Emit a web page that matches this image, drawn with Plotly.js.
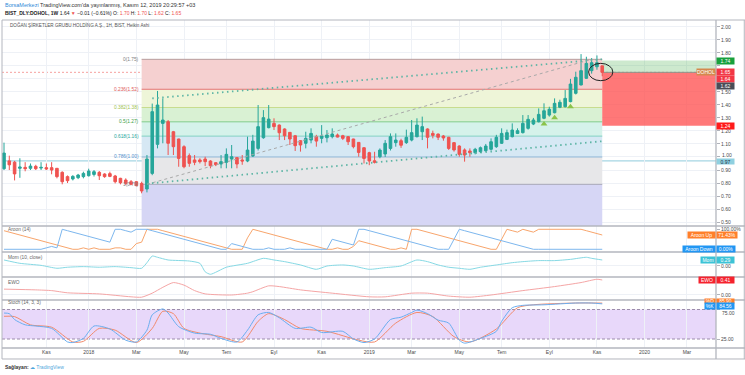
<!DOCTYPE html>
<html><head><meta charset="utf-8">
<script src="https://cdn.plot.ly/plotly-3.0.1.min.js"></script>
<style>html,body{margin:0;padding:0;background:#fff;}#chart{width:745px;height:375px;}</style>
</head><body><div id="chart"></div>
<script>
// ---------- DATA ----------
const barDates = [
'2017-09-11','2017-09-18','2017-09-25','2017-10-02','2017-10-09','2017-10-16','2017-10-23','2017-10-30','2017-11-06','2017-11-13','2017-11-20','2017-11-27','2017-12-04','2017-12-11','2017-12-18','2017-12-25',
'2018-01-01','2018-01-08','2018-01-15','2018-01-22','2018-01-29','2018-02-05','2018-02-12','2018-02-19','2018-02-26','2018-03-05','2018-03-12','2018-03-19','2018-03-26','2018-04-02','2018-04-09','2018-04-16','2018-04-23','2018-04-30','2018-05-07','2018-05-14','2018-05-21','2018-05-28','2018-06-04','2018-06-11','2018-06-18','2018-06-25','2018-07-02','2018-07-09','2018-07-16','2018-07-23','2018-07-30','2018-08-06','2018-08-13','2018-08-20','2018-08-27','2018-09-03','2018-09-10','2018-09-17','2018-09-24','2018-10-01','2018-10-08','2018-10-15','2018-10-22','2018-10-29','2018-11-05','2018-11-12','2018-11-19','2018-11-26','2018-12-03','2018-12-10','2018-12-17','2018-12-24','2018-12-31',
'2019-01-07','2019-01-14','2019-01-21','2019-01-28','2019-02-04','2019-02-11','2019-02-18','2019-02-25','2019-03-04','2019-03-11','2019-03-18','2019-03-25','2019-04-01','2019-04-08','2019-04-15','2019-04-22','2019-04-29','2019-05-06','2019-05-13','2019-05-20','2019-05-27','2019-06-03','2019-06-10','2019-06-17','2019-06-24','2019-07-01','2019-07-08','2019-07-15','2019-07-22','2019-07-29','2019-08-05','2019-08-12','2019-08-19','2019-08-26','2019-09-02','2019-09-09','2019-09-16','2019-09-23','2019-09-30','2019-10-07','2019-10-14','2019-10-21','2019-10-28','2019-11-04','2019-11-11'];

const openP = [0.91,0.97,0.96,0.913,0.92,0.913,0.928,0.915,0.918,0.918,
0.913,0.882,0.849,0.831,0.841,0.849,0.856,0.866,0.882,0.869,
0.872,0.854,0.836,0.823,0.81,0.81,0.797,0.754,0.874,1.097,
1.258,1.271,1.194,1.138,1.079,1.01,0.977,0.977,0.984,0.969,
0.956,0.946,0.959,0.984,0.995,0.977,0.969,1.007,1.066,1.148,
1.225,1.258,1.245,1.215,1.189,1.163,1.125,1.105,1.13,1.156,
1.143,1.148,1.156,1.169,1.163,1.156,1.138,1.112,1.071,1.033,
0.971,1.002,1.023,1.066,1.11,1.125,1.11,1.13,1.156,1.194,
1.215,1.181,1.176,1.161,1.151,1.11,1.084,1.054,1.046,1.033,
1.041,1.048,1.059,1.079,1.105,1.135,1.156,1.181,1.187,1.22,
1.253,1.271,1.297,1.322,1.34,1.381,1.386,1.425,1.489,1.553,
1.604,1.663,1.693,1.70];
const highP = [1.11,1.01,0.97,0.99,0.96,0.95,0.94,0.96,0.95,0.96,
0.915,0.89,0.858,0.86,0.87,0.887,0.91,0.90,0.892,0.875,
0.887,0.862,0.84,0.836,0.823,0.815,0.81,1.015,1.41,1.507,
1.45,1.284,1.2,1.14,1.09,1.027,1.015,0.99,1.002,0.975,
0.96,1.015,1.066,1.092,1.0,1.015,1.156,1.17,1.399,1.36,
1.399,1.297,1.25,1.22,1.19,1.169,1.13,1.194,1.22,1.17,
1.245,1.207,1.22,1.18,1.17,1.16,1.14,1.115,1.075,1.04,
1.04,1.066,1.13,1.181,1.181,1.14,1.21,1.284,1.297,1.31,
1.22,1.202,1.18,1.169,1.155,1.115,1.09,1.066,1.066,1.07,
1.08,1.10,1.143,1.17,1.22,1.21,1.258,1.22,1.322,1.322,
1.30,1.373,1.412,1.386,1.45,1.44,1.514,1.60,1.655,1.79,
1.77,1.76,1.78,1.70];
const lowP = [0.90,0.90,0.82,0.84,0.89,0.90,0.90,0.90,0.90,0.867,
0.836,0.79,0.80,0.82,0.83,0.836,0.85,0.85,0.823,0.84,
0.845,0.797,0.79,0.785,0.785,0.775,0.721,0.728,0.86,1.066,
1.105,1.015,1.015,0.925,0.913,0.925,0.937,0.95,0.93,0.913,
0.93,0.913,0.913,0.913,0.913,0.94,0.96,1.0,1.05,1.14,
1.22,1.207,1.13,1.13,1.092,1.046,1.041,1.066,1.105,1.079,
1.105,1.112,1.143,1.15,1.13,1.092,1.066,1.002,0.95,0.937,
0.95,0.99,1.0,1.05,1.079,1.07,1.10,1.12,1.15,1.13,
1.066,1.143,1.13,1.125,1.054,1.041,1.002,0.964,1.002,1.02,
1.03,1.04,1.05,1.07,1.10,1.13,1.15,1.176,1.18,1.21,
1.245,1.265,1.29,1.31,1.335,1.375,1.38,1.42,1.48,1.55,
1.60,1.64,1.67,1.62];
const closeP = [1.03,0.94,0.87,0.923,0.91,0.93,0.91,0.92,0.908,0.90,
0.849,0.81,0.818,0.851,0.861,0.874,0.892,0.887,0.856,0.849,
0.851,0.81,0.802,0.797,0.79,0.78,0.739,0.984,1.348,1.399,
1.284,1.105,1.079,0.989,0.925,0.951,0.959,0.964,0.964,0.933,
0.941,0.964,1.02,1.002,0.946,0.969,1.053,1.122,1.233,1.302,
1.291,1.233,1.186,1.163,1.138,1.087,1.092,1.143,1.181,1.122,
1.161,1.169,1.176,1.153,1.143,1.117,1.079,1.035,0.989,0.969,
0.959,1.053,1.105,1.156,1.13,1.09,1.151,1.187,1.245,1.233,
1.151,1.166,1.151,1.146,1.066,1.054,1.02,1.015,1.033,1.059,
1.071,1.084,1.117,1.151,1.181,1.187,1.207,1.202,1.258,1.289,
1.284,1.327,1.355,1.366,1.412,1.42,1.45,1.56,1.612,1.663,
1.719,1.724,1.724,1.65];

const aroonUp = [92.9,85.7,78.6,71.4,64.3,57.1,50,42.9,35.7,28.6,21.4,14.3,7.1,0,
0,7.1,0,7.1,0,0,0,7.1,7.1,0,0,28.6,35.7,100,100,100,
92.9,85.7,78.6,71.4,64.3,57.1,50,42.9,35.7,28.6,21.4,14.3,7.1,0,
0,0,57.1,100,92.9,85.7,78.6,71.4,64.3,57.1,50,42.9,35.7,28.6,21.4,14.3,7.1,0,
0,7.1,0,0,14.3,42.9,35.7,28.6,21.4,14.3,7.1,0,0,7.1,0,
100,100,92.9,85.7,78.6,71.4,64.3,57.1,50,42.9,35.7,28.6,21.4,14.3,7.1,0,0,
50,100,92.9,85.7,100,92.9,85.7,100,100,100,100,100,100,100,100,100,92.9,85.7,78.6,71.43];
const aroonDown = [0,0,0,0,0,0,0,0,
7.1,14.3,7.1,100,92.9,85.7,78.6,71.4,64.3,57.1,50,42.9,35.7,
100,100,92.9,85.7,100,100,100,92.9,85.7,78.6,71.4,64.3,57.1,50,42.9,35.7,28.6,21.4,14.3,7.1,0,
0,28.6,21.4,14.3,7.1,0,0,0,7.1,0,0,0,7.1,0,0,0,0,0,0,0,
50,42.9,35.7,28.6,21.4,100,100,92.9,85.7,78.6,71.4,64.3,57.1,50,42.9,35.7,28.6,21.4,14.3,7.1,0,0,0,
50,100,92.9,85.7,78.6,71.4,64.3,57.1,50,42.9,35.7,28.6,21.4,14.3,7.1,
0,0,0,0,0,0,0,0,0,0,0,0,0,0];

const momBars = [0,3,7,10,12,15,18,21,24,26,27,28,29,31,35,37,38,39,42,46,49,51,53,56,59,61,64,66,69,72,75,78,80,82,84,86,88,90,93,96,98,101,104,107,110,111,113];
const momVals = [0.29,0.13,0.03,-0.11,-0.06,-0.03,-0.06,-0.03,-0.08,-0.11,0.16,0.48,0.42,0.29,0.24,0.13,-0.28,-0.40,-0.06,0.13,0.37,0.29,0.21,0.05,-0.16,0,0.05,0,-0.16,-0.08,0,0.29,0.21,0.05,-0.06,-0.11,-0.16,-0.06,0.05,0.16,0.21,0.26,0.26,0.32,0.42,0.37,0.29];

const ewoBars = [0,6,9,12,18,24,26,28,30,32,34,36,38,43,46,47,50,52,56,62,69,72,77,80,84,88,92,98,104,109,112,113];
const ewoVals = [0.16,0.14,0.12,0.06,0.03,-0.05,-0.06,0.05,0.21,0.34,0.27,0.12,0.03,0,0.05,0.09,0.25,0.23,0.14,0.05,-0.05,-0.05,0.05,0.05,-0.03,-0.06,0,0.12,0.23,0.34,0.43,0.41];

const stochKBars = [0,1,2,4,6,9,12,13,15,17,20,23,25,27,28,30,31,33,36,39,41,44,46,48,50,52,55,58,60,64,66,68,70,73,75,77,78,80,82,84,86,87,90,93,94,96,98,102,108,111,113];
const stochKVals = [69,68,58,49,47,43,20,19,26,47,42,23,20,40,66,76,69,46,35,33,26,20,40,66,70,61,43,45,36,38,25,19,25,58,62,70,74,68,57,52,23,18,26,38,55,78,82,83,86,86,84.56];
const stochDBars = [0,2,5,9,13,15,18,21,25,28,30,32,34,37,41,45,48,50,53,56,61,67,70,74,78,81,85,88,93,97,100,108,113];
const stochDVals = [63.5,63,49,45,20,21,43,40,19,43,72,68,43,35,29,20,55,68,58,43,38,23,20,52,70,63,29,20,42,78,83,86,85.9];

const fibRatios = [0, 0.236, 0.382, 0.5, 0.618, 0.786, 1, 1.618];
const fibPrices = [1.75, 1.52, 1.38, 1.27, 1.16, 1.00, 0.79, 0.20];
const fibStart = '2018-03-12', fibEnd = '2019-11-11';

const upperTrendDates = ['2018-03-26','2019-11-15'], upperTrendPrices = [1.450, 1.752];
const lowerTrendDates = ['2018-03-19','2019-11-13'], lowerTrendPrices = [0.795, 1.122];
const fibDiagDates = ['2018-03-19','2019-10-28'], fibDiagPrices = [0.79, 1.75];
const signalDates = ['2019-08-26','2019-09-09','2019-09-30'], signalPrices = [1.253, 1.301, 1.386];

const targetPrice = 1.74, entryPrice = 1.65, stopPrice = 1.24, lastLow = 1.62, lastClose2 = 1.64, hLinePrice = 0.97;
const circleDates = ['2019-10-24','2019-11-25'], circlePrices = [1.586, 1.719];

const xTickVals = ['2017-11-06','2018-01-01','2018-03-05','2018-05-07','2018-07-02','2018-09-03','2018-11-05','2019-01-07','2019-03-04','2019-05-06','2019-07-01','2019-09-02','2019-11-04','2020-01-06','2020-03-02'];
const xTickText = ['Kas','2018','Mar','May','Tem','Eyl','Kas','2019','Mar','May','Tem','Eyl','Kas','2020','Mar'];
const priceTicks = [0.5,0.6,0.7,0.8,0.9,1.0,1.1,1.2,1.3,1.4,1.5,1.6,1.7,1.8,1.9,2.0];
const priceTickText = ['0.50','0.60','0.70','0.80','0.90','','1.10','1.20','1.30','1.40','1.50','','','1.80','1.90','2.00'];

// ---------- STYLE ----------
const FONT = 'Liberation Sans, Arial, sans-serif';
const xRange = ['2017-09-08 08:40','2020-04-09 10:00'];
const bandColors = ['#f5d0d0','#eef5d8','#d9f1d3','#d5f2ea','#d6e8f4','#e7e7e9','#d6d6f5'];
const lineColors = ['#b79c9c','#e57373','#c8dc8e','#81cb88','#80d0c2','#8fb6d6','#a7a7b6'];
const labelColors = ['#808080','#e05a5a','#9cbf4f','#43a047','#26a69a','#4f8fcc','#8a8a8a'];

const bd = i => barDates[i];
const traces = [];
traces.push({type:'candlestick', x:barDates, open:openP, high:highP, low:lowP, close:closeP,
  xaxis:'x', yaxis:'y', hoverinfo:'skip', whiskerwidth:0,
  increasing:{line:{color:'#26a69a', width:1}, fillcolor:'#26a69a'},
  decreasing:{line:{color:'#ef5350', width:1}, fillcolor:'#ef5350'}});
traces.push({type:'scatter', mode:'lines', x:fibDiagDates, y:fibDiagPrices, yaxis:'y', line:{color:'#a9a9a9', width:1, dash:'3px,3px'}, hoverinfo:'skip'});
traces.push({type:'scatter', mode:'lines', x:upperTrendDates, y:upperTrendPrices, yaxis:'y', line:{color:'#5db5a5', width:1.8, dash:'1.5px,3.5px'}, hoverinfo:'skip'});
traces.push({type:'scatter', mode:'lines', x:lowerTrendDates, y:lowerTrendPrices, yaxis:'y', line:{color:'#5db5a5', width:1.8, dash:'1.5px,3.5px'}, hoverinfo:'skip'});
traces.push({type:'scatter', mode:'markers', x:signalDates, y:signalPrices, yaxis:'y', marker:{symbol:'triangle-up', size:6, color:'#8bc34a'}, hoverinfo:'skip'});
traces.push({type:'scatter', mode:'lines', x:barDates, y:aroonUp, yaxis:'y2', line:{color:'#f8a56c', width:1}, hoverinfo:'skip'});
traces.push({type:'scatter', mode:'lines', x:barDates, y:aroonDown, yaxis:'y2', line:{color:'#7db7ee', width:1}, hoverinfo:'skip'});
traces.push({type:'scatter', mode:'lines', x:momBars.map(bd), y:momVals, yaxis:'y3', line:{color:'#86d9e4', width:1, shape:'spline', smoothing:0.6}, hoverinfo:'skip'});
traces.push({type:'scatter', mode:'lines', x:ewoBars.map(bd), y:ewoVals, yaxis:'y4', line:{color:'#f5a5a5', width:1, shape:'spline', smoothing:0.6}, hoverinfo:'skip'});
traces.push({type:'scatter', mode:'lines', x:stochDBars.map(bd), y:stochDVals, yaxis:'y5', line:{color:'#f28a6c', width:1, shape:'spline', smoothing:0.7}, hoverinfo:'skip'});
traces.push({type:'scatter', mode:'lines', x:stochKBars.map(bd), y:stochKVals, yaxis:'y5', line:{color:'#6aaef0', width:1, shape:'spline', smoothing:0.7}, hoverinfo:'skip'});

const shapes = [];
for (let i = 0; i < fibPrices.length - 1; i++) {
  shapes.push({type:'rect', layer:'between', xref:'x', yref:'y', x0:fibStart, x1:fibEnd, y0:fibPrices[i+1], y1:fibPrices[i], fillcolor:bandColors[i], line:{width:0}});
}
for (let i = 0; i < fibPrices.length - 1; i++) {
  shapes.push({type:'line', layer:'between', xref:'x', yref:'y', x0:fibStart, x1:fibEnd, y0:fibPrices[i], y1:fibPrices[i], line:{color:lineColors[i], width:1}});
}
shapes.push({type:'line', layer:'between', xref:'paper', yref:'y', x0:0, x1:1, y0:hLinePrice, y1:hLinePrice, line:{color:'#a6d6e3', width:1.2}});
shapes.push({type:'line', layer:'between', xref:'paper', yref:'y', x0:0, x1:1, y0:entryPrice, y1:entryPrice, line:{color:'rgba(239,83,80,0.55)', width:1, dash:'2px,2px'}});
shapes.push({type:'rect', layer:'between', xref:'x', yref:'y', x0:fibEnd, x1:xRange[1], y0:entryPrice, y1:targetPrice, fillcolor:'rgba(76,175,80,0.28)', line:{width:0}});
shapes.push({type:'rect', layer:'between', xref:'x', yref:'y', x0:fibEnd, x1:xRange[1], y0:stopPrice, y1:entryPrice, fillcolor:'rgba(255,82,82,0.78)', line:{width:0}});
shapes.push({type:'line', layer:'between', xref:'x', yref:'y', x0:fibEnd, x1:xRange[1], y0:entryPrice, y1:entryPrice, line:{color:'#8c968c', width:1}});
shapes.push({type:'circle', layer:'above', xref:'x', yref:'y', x0:circleDates[0], x1:circleDates[1], y0:circlePrices[0], y1:circlePrices[1], line:{color:'#222', width:1}});
shapes.push({type:'rect', layer:'between', xref:'paper', yref:'y5', x0:0, x1:1, y0:25, y1:75, fillcolor:'rgba(149,76,233,0.22)', line:{width:0}});
shapes.push({type:'line', layer:'between', xref:'paper', yref:'y5', x0:0, x1:1, y0:75, y1:75, line:{color:'#9c8cab', width:1, dash:'3px,2px'}});
shapes.push({type:'line', layer:'between', xref:'paper', yref:'y5', x0:0, x1:1, y0:25, y1:25, line:{color:'#9c8cab', width:1, dash:'3px,2px'}});
const sepCol = '#b3b6be';
const XR = 1.0406;
[0.3720, 0.2927, 0.2165, 0.1463].forEach(v => shapes.push({type:'line', layer:'above', xref:'paper', yref:'paper', x0:0, x1:XR, y0:v, y1:v, line:{color:sepCol, width:1.3}}));
shapes.push({type:'line', layer:'above', xref:'paper', yref:'paper', x0:0, x1:XR, y0:1, y1:1, line:{color:sepCol, width:1}});
shapes.push({type:'line', layer:'above', xref:'paper', yref:'paper', x0:0, x1:XR, y0:0, y1:0, line:{color:sepCol, width:1.3}});
shapes.push({type:'line', layer:'above', xref:'paper', yref:'paper', x0:0, x1:XR, y0:-0.0335, y1:-0.0335, line:{color:sepCol, width:1}});
shapes.push({type:'line', layer:'above', xref:'paper', yref:'paper', x0:0, x1:0, y0:-0.0335, y1:1, line:{color:sepCol, width:1}});
shapes.push({type:'line', layer:'above', xref:'paper', yref:'paper', x0:1, x1:1, y0:-0.0335, y1:1, line:{color:sepCol, width:1.3}});
shapes.push({type:'line', layer:'above', xref:'paper', yref:'paper', x0:XR-0.001, x1:XR-0.001, y0:-0.0335, y1:1, line:{color:sepCol, width:1}});

const annotations = [];
const RED = '#ef5350';
annotations.push({xref:'paper', yref:'paper', x:0.0014, y:1.0457, xanchor:'left', yanchor:'middle', showarrow:false,
  text:"<span style='color:#2f8ad8'>BorsaMerkezi</span> TradingView.com'da yayınlanmış, Kasım 12, 2019 20:29:57 +03",
  font:{family:FONT, size:5.5, color:'#333'}});
annotations.push({xref:'paper', yref:'paper', x:0.0014, y:1.0213, xanchor:'left', yanchor:'middle', showarrow:false,
  text:"<b>BIST_DLY:DOHOL, 1W</b> 1.64 <span style='color:"+RED+"'>▼</span> −0.01 (−0.61%) O: <span style='color:"+RED+"'>1.70</span> H: <span style='color:"+RED+"'>1.70</span> L: <span style='color:"+RED+"'>1.62</span> C: <span style='color:"+RED+"'>1.65</span>",
  font:{family:FONT, size:5, color:'#222'}});
annotations.push({xref:'paper', yref:'paper', x:0.008, y:0.9848, xanchor:'left', yanchor:'middle', showarrow:false,
  text:'DOĞAN ŞİRKETLER GRUBU HOLDİNG A.Ş., 1H, BIST, Heikin Ashi', font:{family:FONT, size:4.6, color:'#555'}});
[['Aroon (14)',0.3598],['Mom (10, close)',0.2744],['EWO',0.1982],['Stoch (14, 3, 3)',0.1372]].forEach(p =>
  annotations.push({xref:'paper', yref:'paper', x:0.0056, y:p[1], xanchor:'left', yanchor:'middle', showarrow:false, text:p[0], font:{family:FONT, size:4.8, color:'#666'}}));
annotations.push({xref:'paper', yref:'paper', x:0.0014, y:-0.0579, xanchor:'left', yanchor:'middle', showarrow:false,
  text:"<b>Sağlayan:</b> <span style='color:#4ea6dc'>☁ TradingView</span>", font:{family:FONT, size:5, color:'#333'}});
for (let i = 0; i < fibPrices.length - 1; i++) {
  annotations.push({xref:'x', yref:'y', x:fibStart, y:fibPrices[i], xanchor:'right', yanchor:'middle', xshift:-1, showarrow:false,
    text: fibRatios[i] + '(' + fibPrices[i].toFixed(2) + ')', font:{family:FONT, size:4.8, color:labelColors[i]}});
}
// axis tick texts placed by hand to sit beside the price boxes
annotations.push({xref:'paper', yref:'y', x:1, y:1.0, xanchor:'left', yanchor:'middle', xshift:4, yshift:1.5, showarrow:false, text:'1.00', font:{family:FONT, size:5, color:'#4a4a4a'}});
annotations.push({xref:'paper', yref:'y5', x:1, y:75, xanchor:'left', yanchor:'middle', xshift:4, yshift:-3.5, showarrow:false, text:'75.00', font:{family:FONT, size:5, color:'#4a4a4a'}});

function axLab(yref, y, text, bg, fg, opts) {
  opts = opts || {};
  annotations.push(Object.assign({xref:'paper', yref:yref, x:1, y:y, xanchor:'left', yanchor:'middle', showarrow:false,
    text:text, bgcolor:bg, width:17, height:6, borderpad:0, font:{family:FONT, size:5, color:fg}}, opts));
}
axLab('y', targetPrice, targetPrice.toFixed(2), '#18a03c', '#fff');
axLab('y', entryPrice, 'DOHOL', '#d4894e', '#fff', {xanchor:'right', width:18});
axLab('y', entryPrice, entryPrice.toFixed(2), '#f23645', '#fff');
axLab('y', lastClose2, lastClose2.toFixed(2), '#f23645', '#fff', {yshift:-5.4});
axLab('y', lastLow, lastLow.toFixed(2), '#4a4d57', '#fff', {yshift:-9.8});
axLab('y', stopPrice, stopPrice.toFixed(2), '#ff1a1a', '#fff');
axLab('y', hLinePrice, hLinePrice.toFixed(2), '#8fd0e0', '#234', {height:5, yshift:-1});
axLab('y2', aroonUp[aroonUp.length-1], 'Aroon Up', '#ff7f2a', '#fff', {xanchor:'right', width:27});
axLab('y2', aroonUp[aroonUp.length-1], aroonUp[aroonUp.length-1].toFixed(2)+'%', '#ff7f2a', '#fff', {width:20});
axLab('y2', aroonDown[aroonDown.length-1], 'Aroon Down', '#2196f3', '#fff', {xanchor:'right', width:32});
axLab('y2', aroonDown[aroonDown.length-1], aroonDown[aroonDown.length-1].toFixed(2)+'%', '#2196f3', '#fff', {width:18});
axLab('y3', momVals[momVals.length-1], 'Mom', '#3cc3d6', '#fff', {xanchor:'right', width:14});
axLab('y3', momVals[momVals.length-1], momVals[momVals.length-1].toFixed(2), '#3cc3d6', '#fff');
axLab('y4', ewoVals[ewoVals.length-1], 'EWO', '#f5222d', '#fff', {xanchor:'right', width:16});
axLab('y4', ewoVals[ewoVals.length-1], ewoVals[ewoVals.length-1].toFixed(2), '#f5222d', '#fff');
axLab('y5', stochDVals[stochDVals.length-1], '%D', '#ff7f2a', '#fff', {xanchor:'right', width:10, yshift:2.5, height:4});
axLab('y5', stochDVals[stochDVals.length-1], stochDVals[stochDVals.length-1].toFixed(2), '#ff7f2a', '#fff', {yshift:2.5, height:4});
axLab('y5', stochKVals[stochKVals.length-1], '%K', '#2196f3', '#fff', {xanchor:'right', width:10, yshift:-2.3});
axLab('y5', stochKVals[stochKVals.length-1], stochKVals[stochKVals.length-1].toFixed(2), '#2196f3', '#fff', {yshift:-2.3});

const GRID = '#eef1f6';
const yBase = {side:'right', anchor:'x', showline:false, zeroline:false, ticks:'outside', ticklen:3, tickcolor:'#b0b3bb',
  tickfont:{family:FONT, size:5, color:'#4a4a4a'}, fixedrange:true, showgrid:true, gridcolor:GRID, tickmode:'array'};
const layout = {
  width:745, height:375, margin:{l:2, r:29, t:20, b:27},
  paper_bgcolor:'#fff', plot_bgcolor:'#fff', showlegend:false, hovermode:false,
  xaxis:{type:'date', range:xRange, anchor:'y5', tickmode:'array', tickvals:xTickVals, ticktext:xTickText,
    showgrid:true, gridcolor:GRID, ticks:'', showline:false, zeroline:false,
    tickfont:{family:FONT, size:5, color:'#4a4a4a'}, rangeslider:{visible:false}, fixedrange:true},
  yaxis: Object.assign({}, yBase, {domain:[0.3720, 1], range:[0.470, 2.052], tickvals:priceTicks, ticktext:priceTickText}),
  yaxis2: Object.assign({}, yBase, {domain:[0.2927, 0.3720], range:[-13.5, 116.5], tickvals:[100], ticktext:['100.00%'], showgrid:false}),
  yaxis3: Object.assign({}, yBase, {domain:[0.2165, 0.2927], range:[-0.531, 0.676], tickvals:[0], ticktext:['0.00']}),
  yaxis4: Object.assign({}, yBase, {domain:[0.1463, 0.2165], range:[-0.137, 0.492], tickvals:[0], ticktext:['0.00']}),
  yaxis5: Object.assign({}, yBase, {domain:[0, 0.1463], range:[9.75, 91.1], tickvals:[25, 75], ticktext:['25.00',''], showgrid:false}),
  shapes: shapes, annotations: annotations
};
Plotly.newPlot('chart', traces, layout, {staticPlot:true, displayModeBar:false});
</script></body></html>
